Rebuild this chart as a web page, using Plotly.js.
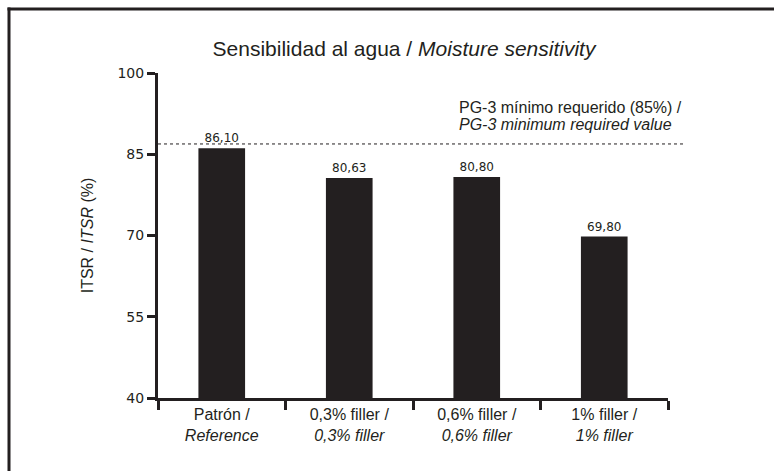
<!DOCTYPE html>
<html>
<head>
<meta charset="utf-8">
<script src="https://cdn.plot.ly/plotly-3.0.1.min.js"></script>
<style>html,body{margin:0;padding:0;background:#fff;}#chart{width:774px;height:471px;}</style>
</head>
<body>
<div id="chart"></div>
<script>
// ---- Data ----
const categories = [
  'Patrón /<br><i>Reference</i>',
  '0,3% filler /<br><i>0,3% filler</i>',
  '0,6% filler /<br><i>0,6% filler</i>',
  '1% filler /<br><i>1% filler</i>'
];
const itsrValues = [86.10, 80.63, 80.80, 69.80];
const thresholdValue = 86.9;
const yTickValues = [40, 55, 70, 85, 100];
const titleText = 'Sensibilidad al agua / <i>Moisture sensitivity</i>';
const yTitleText = 'ITSR / <i>ITSR</i> (%)';
const thresholdLine1 = 'PG-3 mínimo requerido (85%) /';
const thresholdLine2 = '<i>PG-3 minimum required value</i>';

// ---- Layout helpers (pixel -> paper) ----
const W = 774, H = 471;
const L = 158, R = 106, T = 73, B = 73;
const PW = W - L - R, PH = H - T - B;
const px = x => (x - L) / PW;
const py = y => (H - B - y) / PH;
const dark = '#231f20';
const sans = 'Liberation Sans, Arial, sans-serif';
const numFont = 'DejaVu Sans, Verdana, sans-serif';

const trace = {
  type: 'bar',
  x: categories,
  y: itsrValues,
  width: 0.366,
  marker: {color: dark, line: {width: 0}},
  texttemplate: '%{y:.2f}',
  textposition: 'outside',
  textfont: {family: numFont, size: 12, color: dark},
  cliponaxis: false,
  hoverinfo: 'skip'
};

const layout = {
  width: W, height: H,
  margin: {l: L, r: R, t: T, b: B, pad: 0},
  paper_bgcolor: '#fff', plot_bgcolor: '#fff',
  separators: ',.',
  showlegend: false,
  title: {
    text: titleText,
    font: {family: sans, size: 21, color: dark},
    x: 404 / W, xanchor: 'center',
    y: 1 - 49 / H, yanchor: 'middle'
  },
  xaxis: {
    range: [-0.5, 3.5],
    showline: true, linecolor: dark, linewidth: 3,
    ticks: 'outside', tickson: 'boundaries', ticklen: 9, tickwidth: 3, tickcolor: dark,
    tickfont: {family: sans, size: 16, color: dark},
    showgrid: false, zeroline: false, fixedrange: true
  },
  yaxis: {
    range: [40, 100],
    tickvals: yTickValues,
    showline: true, linecolor: dark, linewidth: 3,
    ticks: 'outside', ticklen: 8, tickwidth: 3, tickcolor: dark,
    tickfont: {family: numFont, size: 14, color: dark},
    showgrid: false, zeroline: false, fixedrange: true,
    title: {text: yTitleText, font: {family: sans, size: 16, color: dark}, standoff: 20}
  },
  shapes: [
    {type: 'line', xref: 'paper', yref: 'y', x0: 0, x1: px(683), y0: thresholdValue, y1: thresholdValue,
     line: {color: dark, width: 1, dash: 'dot'}},
    {type: 'line', xref: 'paper', yref: 'paper', x0: px(7.5), x1: px(790), y0: py(9), y1: py(9),
     line: {color: dark, width: 3}},
    {type: 'line', xref: 'paper', yref: 'paper', x0: px(9), x1: px(9), y0: py(7.5), y1: py(490),
     line: {color: dark, width: 3}}
  ],
  annotations: [
    {xref: 'paper', yref: 'paper', x: px(457), y: py(107), xanchor: 'left', yanchor: 'middle',
     text: thresholdLine1, showarrow: false, font: {family: sans, size: 16, color: dark}},
    {xref: 'paper', yref: 'paper', x: px(457), y: py(124), xanchor: 'left', yanchor: 'middle',
     text: thresholdLine2, showarrow: false, font: {family: sans, size: 16, color: dark}}
  ]
};

Plotly.newPlot('chart', [trace], layout, {staticPlot: true, displayModeBar: false});
</script>
</body>
</html>
